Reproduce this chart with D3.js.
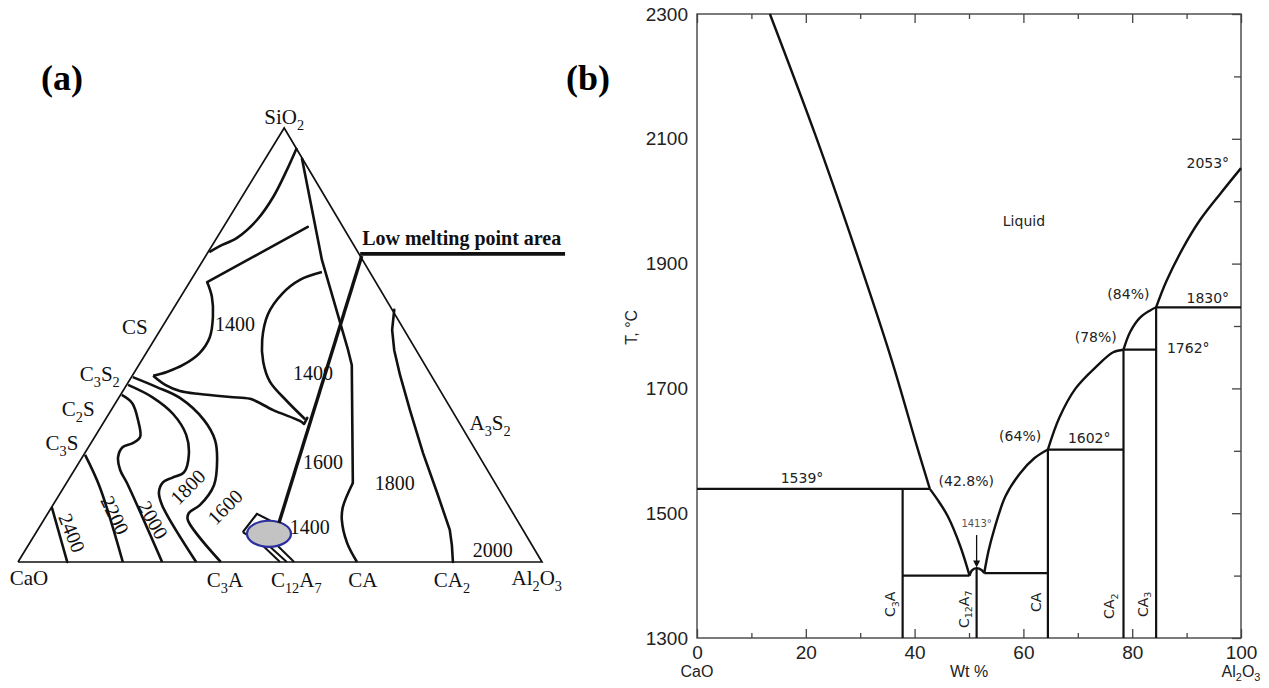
<!DOCTYPE html>
<html>
<head>
<meta charset="utf-8">
<script src="https://d3js.org/d3.v7.min.js"></script>
<style>
  body { margin: 0; background: #fff; }
</style>
</head>
<body>
<div id="chart"></div>
<script>
// ---------- panel (a): CaO-SiO2-Al2O3 ternary, points as [u along base 0-100, v height 0-100]
var triangle = [[0, 0], [100, 0], [50.8, 100], [0, 0]];
var curveA = [[53.2, 95.4], [51.3, 90.3], [48.7, 84.1], [45.6, 78.8], [41.8, 74.7], [38.5, 72.8], [36.5, 71.4]];
var lineB = [[54.2, 92.9], [58.0, 69.6], [63.0, 48.8], [63.7, 45.4], [63.9, 18.2]];
var lineBfoot = [[63.9, 18.2], [62.0, 12.7], [61.8, 9.7], [62.8, 4.4], [64.7, 0]];
var top1400 = [[55.3, 77.2], [36.1, 64.5]];
var side1400 = [[36.1, 64.5], [37.0, 61.1], [37.2, 56.5], [36.6, 51.8], [34.7, 48.2], [31.5, 45.4], [28.4, 43.8], [25.8, 42.9]];
var base1400 = [[25.8, 42.9], [28.1, 40.8], [30.9, 39.4], [34.7, 38.7], [40.5, 38.0], [44.3, 37.6], [48.7, 35.0], [53.8, 32.5], [54.6, 31.8]];
var tab1400 = [[54.6, 31.8], [55.2, 33.2]];
var arc1400 = [[58.0, 66.8], [53.8, 65.0], [50.4, 61.8], [47.7, 57.1], [46.6, 51.2], [46.8, 46.1], [48.1, 41.5], [51.3, 37.1], [54.8, 32.9]];
var lineC = [[71.8, 58.1], [71.4, 53.5], [71.8, 48.8], [72.9, 43.1], [74.8, 35.0], [77.3, 25.1], [80.0, 15.9], [82.4, 7.4], [82.8, 3.9], [83.0, 0]];
var iso2400 = [[6.5, 12.4], [9.4, 0]];
var iso2200 = [[12.8, 24.7], [15.6, 17.3], [20.0, 0]];
var iso2000 = [[19.8, 38.5], [21.8, 36.6], [22.9, 32.7], [23.3, 28.8], [21.9, 27.4], [20.0, 26.5], [19.1, 24.2], [19.5, 21.2], [20.8, 18.2], [27.5, 0]];
var iso1800 = [[21.0, 40.8], [25.6, 38.0], [29.6, 34.1], [32.1, 29.3], [32.6, 24.7], [31.7, 20.7], [29.4, 19.4], [27.7, 18.4], [26.9, 16.1], [27.5, 13.1], [34.0, 0]];
var iso1600 = [[21.9, 42.6], [26.5, 40.3], [30.9, 37.8], [35.5, 32.7], [37.6, 28.1], [38.0, 23.5], [37.4, 17.7], [34.7, 13.1], [32.6, 11.3], [32.4, 9.7], [38.7, 0]];
var lowLeader = [[65.6, 70.5], [49.8, 9.0]];
var lowBar = [[65.3, 71.0], [104.4, 71.0]];
var lowArea = {u: 47.9, v: 6.5, ru: 4.2, rv: 3.0};
var lowBox = [[42.9, 6.9], [45.6, 11.1], [50.6, 8.0], [46.8, 3.9]];
var lowTicks = [[[46.8, 3.7], [50.0, 0]], [[48.1, 3.5], [51.3, 0]], [[49.4, 3.9], [52.7, 0]]];

var aPhases = [["SiO_2", 50.8, 102.5], ["CS", 22.3, 54.1], ["C_3S_2", 15.6, 43.3], ["C_2S", 11.5, 35.3], ["C_3S", 8.4, 27.4],
               ["A_3S_2", 90.1, 32.0], ["CaO", 2.1, -3.7], ["C_3A", 39.5, -4.1], ["C_12A_7", 53.1, -4.1], ["CA", 65.8, -4.1],
               ["CA_2", 82.8, -4.1], ["Al_2O_3", 99.0, -3.7]];
var aTemps = [["1400", 41.4, 54.8, 0], ["1400", 56.3, 43.5, 0], ["1600", 58.2, 23.0, 0], ["1800", 71.9, 18.2, 0],
              ["1400", 55.7, 8.1, 0], ["2000", 90.6, 2.8, 0], ["2400", 10.3, 6.7, 68], ["2200", 18.5, 10.8, 64],
              ["2000", 25.8, 9.7, 61], ["1800", 32.4, 17.3, -45], ["1600", 39.5, 12.7, -45]];

// ---------- panel (b): CaO-Al2O3 binary, [wt% Al2O3, T]
var liqLeft = [[13.4, 2300], [21.8, 2105], [29.0, 1925], [35.8, 1745], [40.5, 1605], [42.8, 1539]];
var liqC12 = [[42.8, 1539], [44.5, 1518], [46.1, 1495], [48.4, 1447], [50.1, 1400]];
var bump = [[50.1, 1400], [50.5, 1408], [51.4, 1412], [52.3, 1409], [52.8, 1404]];
var liqCA = [[52.8, 1404], [53.6, 1440], [54.6, 1473], [56.7, 1527], [59.4, 1564], [62.0, 1588], [64.5, 1602]];
var liqCA2 = [[64.5, 1602], [66.6, 1653], [69.6, 1700], [73.4, 1735], [76.5, 1758], [78.4, 1762]];
var liqCA3 = [[78.4, 1762], [79.6, 1790], [81.4, 1813], [83.3, 1825], [84.4, 1830]];
var liqAl = [[84.4, 1830], [86.3, 1872], [89.4, 1926], [92.4, 1969], [96.2, 2012], [100, 2053]];
var isotherms = [[0, 42.8, 1539], [37.8, 50.1, 1400], [52.8, 64.5, 1404], [64.5, 78.4, 1602], [78.4, 84.4, 1762], [84.4, 100, 1830]];
var compounds = [["C_3A", 37.8, 1539, 35.5, 1354], ["C_12A_7", 51.4, 1411, 49.0, 1346], ["CA", 64.5, 1602, 62.3, 1357],
                 ["CA_2", 78.4, 1762, 75.7, 1351], ["CA_3", 84.4, 1830, 81.9, 1354]];
var notes = [["1539°", 19.3, 1556], ["(42.8%)", 49.5, 1552], ["(64%)", 59.4, 1623], ["1602°", 72.1, 1621],
             ["(78%)", 73.3, 1782], ["1762°", 90.3, 1764], ["(84%)", 79.3, 1852], ["1830°", 93.9, 1845],
             ["2053°", 93.9, 2062], ["Liquid", 60.1, 1968]];
var xMajor = [0, 20, 40, 60, 80, 100];
var xMinor = [10, 30, 50, 70, 90];
var yMajor = [1300, 1500, 1700, 1900, 2100, 2300];
var yMinor = [1400, 1600, 1800, 2000, 2200];

var W = 1269, H = 688;
var svg = d3.select("#chart").append("svg")
    .attr("width", W).attr("height", H)
    .style("background", "#fff");

// text with digit subscripts written as "_12"
function rich(sel, str, fs) {
  var parts = str.split(/(_\d+)/), down = false, sh = fs * 0.28;
  parts.forEach(function (p) {
    if (!p) return;
    if (p[0] === "_") {
      sel.append("tspan").attr("font-size", fs * 0.68).attr("dy", sh).text(p.slice(1));
      down = true;
    } else {
      var t = sel.append("tspan").text(p);
      if (down) { t.attr("dy", -sh); down = false; }
    }
  });
}

// ================= panel (a)
var ax = d3.scaleLinear().domain([0, 100]).range([18, 542]);
var ay = d3.scaleLinear().domain([0, 100]).range([562, 128]);
var straightA = d3.line().x(function (d) { return ax(d[0]); }).y(function (d) { return ay(d[1]); });
var smoothA = d3.line().x(function (d) { return ax(d[0]); }).y(function (d) { return ay(d[1]); })
    .curve(d3.curveCatmullRom.alpha(0.5));

var ga = svg.append("g").attr("class", "ternary");

ga.append("path").attr("d", straightA(triangle))
    .attr("fill", "none").attr("stroke", "#111").attr("stroke-width", 1.7).attr("stroke-linejoin", "miter");

[curveA, side1400, base1400, arc1400, lineBfoot, iso2000, iso1800, iso1600, iso2200].forEach(function (c) {
  ga.append("path").attr("d", smoothA(c))
      .attr("fill", "none").attr("stroke", "#111").attr("stroke-width", 2.6).attr("stroke-linejoin", "round");
});
[lineB, top1400, tab1400, lineC, iso2400].forEach(function (c) {
  ga.append("path").attr("d", straightA(c))
      .attr("fill", "none").attr("stroke", "#111").attr("stroke-width", 2.6)
      .attr("stroke-linejoin", "round").attr("stroke-linecap", "round");
});

// low melting point area marker
ga.append("path").attr("d", straightA(lowBox.concat([lowBox[0]])))
    .attr("fill", "#fff").attr("stroke", "#111").attr("stroke-width", 2.2);
lowTicks.forEach(function (t) {
  ga.append("path").attr("d", straightA(t)).attr("stroke", "#111").attr("stroke-width", 2);
});
ga.append("ellipse")
    .attr("cx", ax(lowArea.u)).attr("cy", ay(lowArea.v))
    .attr("rx", ax(lowArea.ru) - ax(0)).attr("ry", ay(0) - ay(lowArea.rv))
    .attr("fill", "#c3c3c3").attr("stroke", "#2b2f9e").attr("stroke-width", 2.2);
ga.append("path").attr("d", straightA(lowLeader)).attr("stroke", "#111").attr("stroke-width", 3.4);
ga.append("path").attr("d", straightA(lowBar)).attr("stroke", "#111").attr("stroke-width", 3.6);
ga.append("text")
    .attr("x", ax(lowBar[0][0]) + 2).attr("y", ay(lowBar[0][1]) - 9)
    .attr("font-family", "Liberation Serif, serif").attr("font-weight", "bold").attr("font-size", 20)
    .attr("fill", "#111").text("Low melting point area");

aPhases.forEach(function (p) {
  var t = ga.append("text")
      .attr("x", ax(p[1])).attr("y", ay(p[2])).attr("dy", 7)
      .attr("text-anchor", "middle")
      .attr("font-family", "Liberation Serif, serif").attr("font-size", 21).attr("fill", "#111");
  rich(t, p[0], 21);
});
aTemps.forEach(function (p) {
  ga.append("text")
      .attr("transform", "translate(" + ax(p[1]) + "," + ay(p[2]) + ") rotate(" + p[3] + ")")
      .attr("dy", 7).attr("text-anchor", "middle")
      .attr("font-family", "Liberation Serif, serif").attr("font-size", 20).attr("fill", "#111")
      .text(p[0]);
});

svg.append("text").attr("x", 62).attr("y", 90).attr("text-anchor", "middle")
    .attr("font-family", "Liberation Serif, serif").attr("font-weight", "bold").attr("font-size", 36)
    .text("(a)");
svg.append("text").attr("x", 588).attr("y", 90).attr("text-anchor", "middle")
    .attr("font-family", "Liberation Serif, serif").attr("font-weight", "bold").attr("font-size", 36)
    .text("(b)");

// ================= panel (b)
var bx = d3.scaleLinear().domain([0, 100]).range([697, 1241]);
var by = d3.scaleLinear().domain([1300, 2300]).range([638, 14]);
var lineB2 = d3.line().x(function (d) { return bx(d[0]); }).y(function (d) { return by(d[1]); })
    .curve(d3.curveCatmullRom.alpha(0.5));

var gb = svg.append("g").attr("class", "binary");
var ink = "#111";

// axes: ticks pointing inside the frame
var axFont = "Liberation Sans, Arial, sans-serif";
function styleAxis(g) {
  g.select(".domain").remove();
  g.selectAll(".tick line").attr("stroke", "#444").attr("stroke-width", 1.3);
  g.selectAll(".tick text").attr("font-family", axFont).attr("font-size", 19).attr("fill", "#222");
}
gb.append("g").attr("transform", "translate(0," + by(1300) + ")")
    .call(d3.axisBottom(bx).tickValues(xMajor).tickSize(-9).tickPadding(8).tickFormat(d3.format("d")))
    .call(styleAxis);
gb.append("g").attr("transform", "translate(0," + by(1300) + ")")
    .call(d3.axisBottom(bx).tickValues(xMinor).tickSize(-5).tickFormat(""))
    .call(styleAxis);
gb.append("g").attr("transform", "translate(0," + by(2300) + ")")
    .call(d3.axisTop(bx).tickValues(xMajor).tickSize(-9).tickFormat(""))
    .call(styleAxis);
gb.append("g").attr("transform", "translate(0," + by(2300) + ")")
    .call(d3.axisTop(bx).tickValues(xMinor).tickSize(-5).tickFormat(""))
    .call(styleAxis);
gb.append("g").attr("transform", "translate(" + bx(0) + ",0)")
    .call(d3.axisLeft(by).tickValues(yMajor).tickSize(0).tickPadding(9).tickFormat(d3.format("d")))
    .call(styleAxis);
gb.append("g").attr("transform", "translate(" + bx(100) + ",0)")
    .call(d3.axisRight(by).tickValues(yMajor).tickSize(-9).tickFormat(""))
    .call(styleAxis);
gb.append("g").attr("transform", "translate(" + bx(100) + ",0)")
    .call(d3.axisRight(by).tickValues(yMinor).tickSize(-7).tickFormat(""))
    .call(styleAxis);

gb.append("rect")
    .attr("x", bx(0)).attr("y", by(2300))
    .attr("width", bx(100) - bx(0)).attr("height", by(1300) - by(2300))
    .attr("fill", "none").attr("stroke", "#444").attr("stroke-width", 1.4);

// liquidus
[liqLeft, liqC12, bump, liqCA, liqCA2, liqCA3, liqAl].forEach(function (c) {
  gb.append("path").attr("d", lineB2(c))
      .attr("fill", "none").attr("stroke", ink).attr("stroke-width", 2.4);
});
// isotherms
gb.selectAll(".iso").data(isotherms).enter().append("line")
    .attr("x1", function (d) { return bx(d[0]); }).attr("x2", function (d) { return bx(d[1]); })
    .attr("y1", function (d) { return by(d[2]); }).attr("y2", function (d) { return by(d[2]); })
    .attr("stroke", ink).attr("stroke-width", 2.2);
// compound lines
gb.selectAll(".cmp").data(compounds).enter().append("line")
    .attr("x1", function (d) { return bx(d[1]); }).attr("x2", function (d) { return bx(d[1]); })
    .attr("y1", by(1300)).attr("y2", function (d) { return by(d[2]); })
    .attr("stroke", ink).attr("stroke-width", 2.2);
compounds.forEach(function (d) {
  var t = gb.append("text")
      .attr("transform", "translate(" + bx(d[3]) + "," + by(d[4]) + ") rotate(-90)")
      .attr("dy", 5).attr("text-anchor", "middle")
      .attr("font-family", "DejaVu Sans, sans-serif").attr("font-size", 14).attr("fill", "#222");
  rich(t, d[0], 14);
});

// 1413° arrow
gb.append("line")
    .attr("x1", bx(51.4)).attr("x2", bx(51.4)).attr("y1", by(1465)).attr("y2", by(1420))
    .attr("stroke", ink).attr("stroke-width", 1.3);
gb.append("path")
    .attr("d", d3.line()([[bx(51.4) - 3.5, by(1424)], [bx(51.4) + 3.5, by(1424)], [bx(51.4), by(1413)]]) + "Z")
    .attr("fill", ink);
gb.append("text").attr("x", bx(51.4)).attr("y", by(1485)).attr("dy", 4)
    .attr("text-anchor", "middle").attr("font-family", "DejaVu Sans, sans-serif")
    .attr("font-size", 10).attr("fill", "#555").text("1413°");

notes.forEach(function (n) {
  gb.append("text").attr("x", bx(n[1])).attr("y", by(n[2])).attr("dy", 5)
      .attr("text-anchor", "middle").attr("font-family", "DejaVu Sans, sans-serif")
      .attr("font-size", 14).attr("fill", "#222").text(n[0]);
});

// axis titles
gb.append("text")
    .attr("transform", "translate(632," + by(1798) + ") rotate(-90)")
    .attr("dy", 5).attr("text-anchor", "middle")
    .attr("font-family", axFont).attr("font-size", 16).attr("fill", "#222").text("T, °C");
var foot = by(1300) + 39;
gb.append("text").attr("x", bx(0)).attr("y", foot).attr("text-anchor", "middle")
    .attr("font-family", axFont).attr("font-size", 16).attr("fill", "#222").text("CaO");
gb.append("text").attr("x", bx(50)).attr("y", foot).attr("text-anchor", "middle")
    .attr("font-family", axFont).attr("font-size", 16).attr("fill", "#222").text("Wt %");
var al = gb.append("text").attr("x", bx(100)).attr("y", foot).attr("text-anchor", "middle")
    .attr("font-family", axFont).attr("font-size", 16).attr("fill", "#222");
rich(al, "Al_2O_3", 16);
</script>
</body>
</html>
